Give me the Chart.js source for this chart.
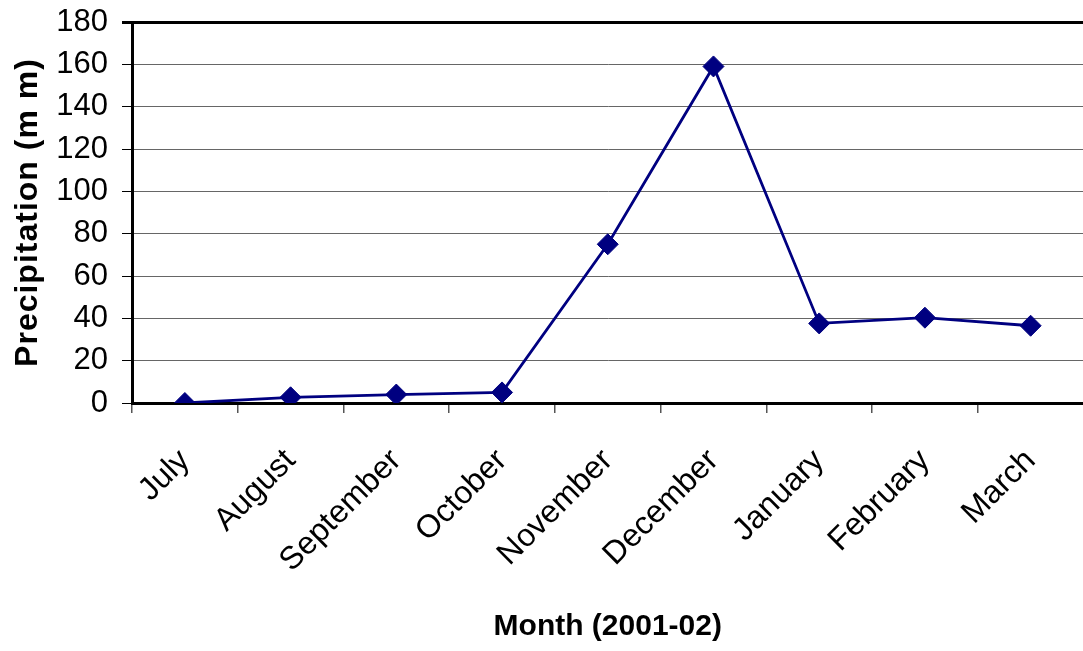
<!DOCTYPE html>
<html>
<head>
<meta charset="utf-8">
<script src="https://cdn.jsdelivr.net/npm/chart.js@4/dist/chart.umd.min.js"></script>
<style>
  html, body { margin: 0; padding: 0; overflow: hidden; background: #fff; }
  #wrap { width: 1095px; height: 651px; position: relative; }
</style>
</head>
<body>
<div id="wrap"><canvas id="c"></canvas></div>
<script>
const months = ["July", "August", "September", "October", "November", "December", "January", "February", "March"];
const precipitation = [0, 2.7, 4, 5, 75, 159, 37.6, 40.3, 36.5];
const yTicks = [0, 20, 40, 60, 80, 100, 120, 140, 160, 180];
const xTitle = "Month (2001-02)";
const yTitle = "Precipitation (m m)";

const FONT = "'Liberation Sans', Arial, sans-serif";

const spacingPlugin = {
  id: 'ytitleSpacing',
  afterLayout(chart) {
    const s = chart.scales.y;
    if (s && !s._wrappedTitle) {
      const orig = s.drawTitle;
      s.drawTitle = function () {
        const c = this.ctx;
        c.save();
        c.letterSpacing = '1px';
        orig.apply(this, arguments);
        c.restore();
      };
      s._wrappedTitle = true;
    }
  }
};

new Chart(document.getElementById('c'), {
  type: 'line',
  data: {
    labels: months,
    datasets: [{
      data: precipitation,
      borderColor: '#000080',
      backgroundColor: '#000080',
      borderWidth: 2.8,
      pointStyle: 'rectRot',
      pointRadius: 10.5,
      pointBackgroundColor: '#000080',
      pointBorderColor: '#000080',
      pointBorderWidth: 1,
      tension: 0,
      fill: false
    }]
  },
  options: {
    responsive: true,
    maintainAspectRatio: false,
    animation: false,
    events: [],
    layout: { padding: { left: 0, top: 22, right: 4.5, bottom: 0 } },
    plugins: { legend: { display: false }, tooltip: { enabled: false } },
    scales: {
      x: {
        type: 'category',
        offset: true,
        grid: {
          offset: true,
          drawOnChartArea: false,
          drawTicks: true,
          tickLength: 10,
          color: '#555',
          lineWidth: 1.5
        },
        border: { display: true, color: '#000', width: 3 },
        ticks: {
          autoSkip: false,
          minRotation: 45,
          maxRotation: 45,
          padding: 29,
          color: '#000',
          font: { family: FONT, size: 32 }
        },
        title: {
          display: true,
          text: xTitle,
          color: '#000',
          font: { family: FONT, size: 30, weight: 'bold' },
          padding: { top: 0, bottom: 6 }
        },
        afterFit(scale) { scale.height = 248; scale.paddingLeft = 0; scale.paddingRight = 0; }
      },
      y: {
        min: 0,
        max: 180,
        afterBuildTicks(scale) { scale.ticks = yTicks.map(v => ({ value: v })); },
        grid: {
          drawTicks: true,
          tickLength: 10,
          color: (ctx) => (ctx.tick && ctx.tick.value === 180) ? '#000' : '#666',
          lineWidth: (ctx) => (ctx.tick && ctx.tick.value === 180) ? 3 : 1,
          tickColor: '#000'
        },
        border: { display: true, color: '#000', width: 3 },
        ticks: {
          padding: 14,
          color: '#000',
          font: { family: FONT, size: 31 }
        },
        title: {
          display: true,
          text: yTitle,
          color: '#000',
          font: { family: FONT, size: 32, weight: 'bold' },
          padding: { top: 9, bottom: 0 }
        },
        afterFit(scale) { scale.width = 132; scale.paddingTop = 0; scale.paddingBottom = 0; }
      }
    }
  },
  plugins: [spacingPlugin]
});
</script>
</body>
</html>
